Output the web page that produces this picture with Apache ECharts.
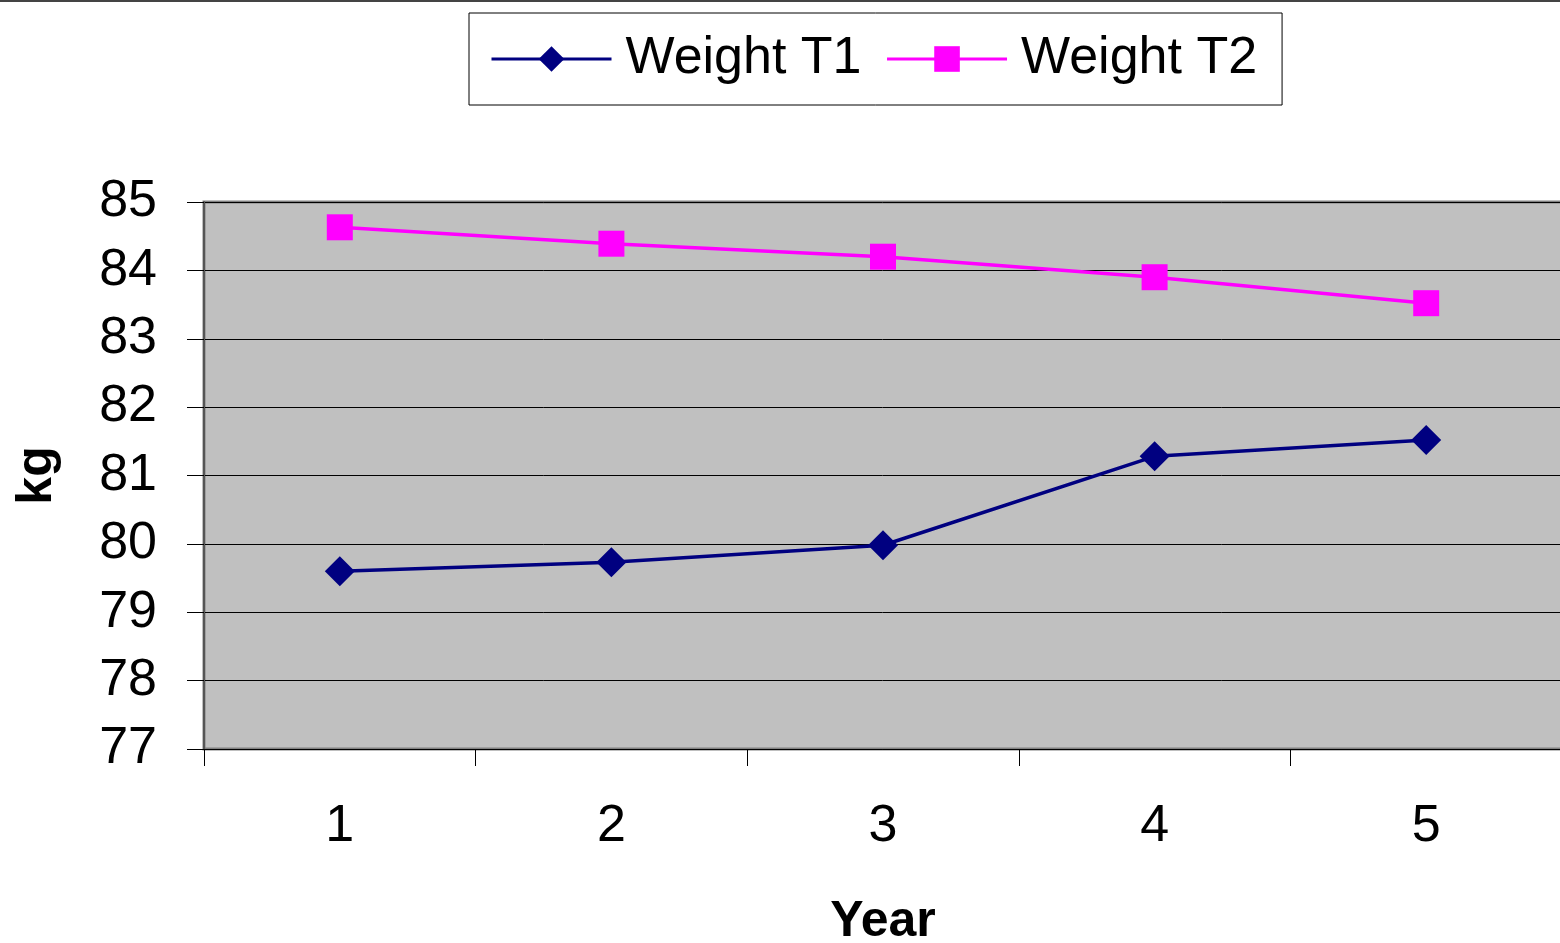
<!DOCTYPE html>
<html>
<head>
<meta charset="utf-8">
<script src="https://cdn.jsdelivr.net/npm/echarts@6/dist/echarts.min.js"></script>
<style>
html,body{margin:0;padding:0;background:#fff;}
#main{width:1560px;height:943px;}
</style>
</head>
<body>
<div id="main"></div>
<script>
const years = ['1', '2', '3', '4', '5'];
const weightT1 = [79.6, 79.73, 79.98, 81.28, 81.52];
const weightT2 = [84.63, 84.39, 84.2, 83.9, 83.52];
const yTicks = [77, 78, 79, 80, 81, 82, 83, 84, 85];

const chart = echarts.init(document.getElementById('main'));
const FONT = 'Liberation Sans, Arial, sans-serif';
chart.setOption({
  animation: false,
  backgroundColor: '#ffffff',
  textStyle: { fontFamily: FONT },
  graphic: [
    { type: 'line', shape: { x1: 0, y1: 1, x2: 1560, y2: 1 }, style: { stroke: '#444', lineWidth: 2 } }
  ],
  legend: {
    top: 13,
    left: 469,
    padding: [20, 25, 20, 21],
    borderColor: '#000',
    borderWidth: 1,
    itemWidth: 120,
    itemHeight: 32,
    itemGap: 24,
    lineStyle: { width: 3 },
    textStyle: { fontSize: 52, color: '#000', fontFamily: FONT, padding: [4, 0, 0, 9] },
    data: ['Weight T1', 'Weight T2']
  },
  grid: {
    left: 204,
    top: 202,
    width: 1358,
    height: 547,
    outerBoundsMode: 'none',
    containLabel: false,
    show: true,
    backgroundColor: '#c0c0c0',
    borderColor: '#808080',
    borderWidth: 3
  },
  xAxis: {
    type: 'category',
    data: years,
    boundaryGap: true,
    name: 'Year',
    nameLocation: 'middle',
    nameGap: 148,
    nameTextStyle: { fontSize: 50, fontWeight: 'bold', color: '#000', fontFamily: FONT },
    axisLine: { lineStyle: { color: '#000', width: 1 } },
    axisTick: { show: true, length: 17, lineStyle: { color: '#000' } },
    axisLabel: { fontSize: 52, color: '#000', margin: 52, fontFamily: FONT },
    splitLine: { show: false }
  },
  yAxis: {
    type: 'value',
    min: 77,
    max: 85,
    interval: 1,
    name: 'kg',
    nameLocation: 'middle',
    nameGap: 142,
    nameRotate: 90,
    nameTextStyle: { fontSize: 50, fontWeight: 'bold', color: '#000', fontFamily: FONT },
    axisLine: { show: true, lineStyle: { color: '#555', width: 2 } },
    axisTick: { show: true, length: 17, lineStyle: { color: '#000' } },
    axisLabel: { fontSize: 52, color: '#000', margin: 47, fontFamily: FONT,
      formatter: v => yTicks.includes(v) ? String(v) : '' },
    splitLine: { show: true, lineStyle: { color: '#000', width: 1 } }
  },
  series: [
    {
      name: 'Weight T1',
      type: 'line',
      data: weightT1,
      symbol: 'diamond',
      symbolSize: 30,
      lineStyle: { color: '#000080', width: 3.5 },
      itemStyle: { color: '#000080' }
    },
    {
      name: 'Weight T2',
      type: 'line',
      data: weightT2,
      symbol: 'rect',
      symbolSize: 26,
      lineStyle: { color: '#ff00ff', width: 3.5 },
      itemStyle: { color: '#ff00ff' }
    }
  ]
});
</script>
</body>
</html>
